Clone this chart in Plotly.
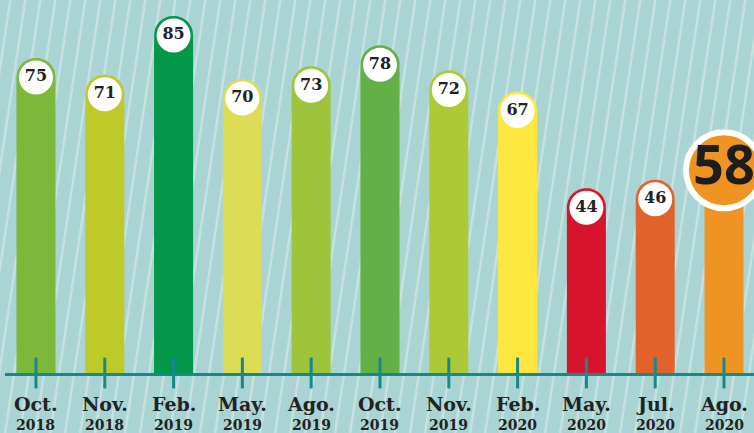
import plotly.graph_objects as go

months = ["Oct.", "Nov.", "Feb.", "May.", "Ago.", "Oct.", "Nov.", "Feb.", "May.", "Jul.", "Ago."]
years = ["2018", "2018", "2019", "2019", "2019", "2019", "2019", "2020", "2020", "2020", "2020"]
values = [75, 71, 85, 70, 73, 78, 72, 67, 44, 46, 58]

bar_colors = ["#7db83b", "#bdca28", "#03974a", "#dcdc55", "#9dc43a", "#62b046",
              "#adc936", "#fde73f", "#d8132e", "#e2622b", "#ef9422"]

W, H = 754, 433
ML, MR, MT, MB = 5, 0, 0, 60
plot_h = H - MT - MB
YMAX = 88.8
px_per_unit = plot_h / YMAX
BAR_W_PX = 39
small_r_px = BAR_W_PX / 2
big_r_px = 41

cats = list(range(len(values)))
n = len(values)

fig = go.Figure()

fig.add_trace(go.Bar(
    x=cats, y=values, marker=dict(color=bar_colors, line=dict(width=0)),
    width=0.567, hoverinfo="skip",
))

# small value circles (all but last)
small_idx = cats[:-1]
fig.add_trace(go.Scatter(
    x=small_idx,
    y=[values[i] - small_r_px / px_per_unit for i in small_idx],
    mode="markers+text",
    marker=dict(size=34, color="white", line=dict(width=0)),
    text=[str(values[i]) for i in small_idx],
    textposition="middle center",
    textfont=dict(family="DejaVu Serif", size=16, color="#222222", weight="bold"),
    cliponaxis=False, hoverinfo="skip",
))

# big highlighted last value
last = cats[-1]
fig.add_trace(go.Scatter(
    x=[last], y=[values[last] - big_r_px / px_per_unit],
    mode="markers+text",
    marker=dict(size=76, color=bar_colors[last], line=dict(width=6, color="white")),
    text=[str(values[last])],
    textposition="middle center",
    textfont=dict(family="Open Sans", size=54, color="#1d1d1b", weight="bold"),
    cliponaxis=False, hoverinfo="skip",
))

# tick marks crossing the axis line
fig.add_trace(go.Scatter(
    x=cats, y=[0] * n, mode="markers",
    marker=dict(symbol="line-ns", size=22, line=dict(width=3, color="#16898b")),
    cliponaxis=False, hoverinfo="skip",
))

shapes = []
# decorative diagonal stripes in the background
xs = -0.12
while xs < 1.05:
    shapes.append(dict(type="line", xref="paper", yref="paper",
                       x0=xs, y0=-MB / plot_h, x1=xs + 0.087, y1=1.0,
                       line=dict(color="rgba(255,255,255,0.33)", width=2.5),
                       layer="below"))
    xs += 15 / (W - ML - MR)

annotations = []
for i in cats:
    annotations.append(dict(x=i, y=0, xref="x", yref="paper", yanchor="middle",
                            yshift=-31, showarrow=False,
                            text="<b>%s</b>" % months[i],
                            font=dict(family="DejaVu Serif", size=19, color="#222222")))
    annotations.append(dict(x=i, y=0, xref="x", yref="paper", yanchor="middle",
                            yshift=-52, showarrow=False,
                            text="<b>%s</b>" % years[i],
                            font=dict(family="DejaVu Serif", size=14, color="#222222")))

fig.update_layout(
    width=W, height=H,
    margin=dict(l=ML, r=MR, t=MT, b=MB),
    paper_bgcolor="#a9d4d3", plot_bgcolor="#a9d4d3",
    showlegend=False,
    barcornerradius=20,
    shapes=shapes, annotations=annotations,
    xaxis=dict(range=[-0.45, 10.436], showgrid=False, zeroline=False,
               showticklabels=False, ticks="", showline=True,
               linecolor="#16898b", linewidth=3, fixedrange=True),
    yaxis=dict(range=[0, YMAX], visible=False, fixedrange=True),
)

fig.write_html("out.html", config={"displayModeBar": False},
               post_script="document.body.style.margin='0px';document.body.style.overflow='hidden';")
